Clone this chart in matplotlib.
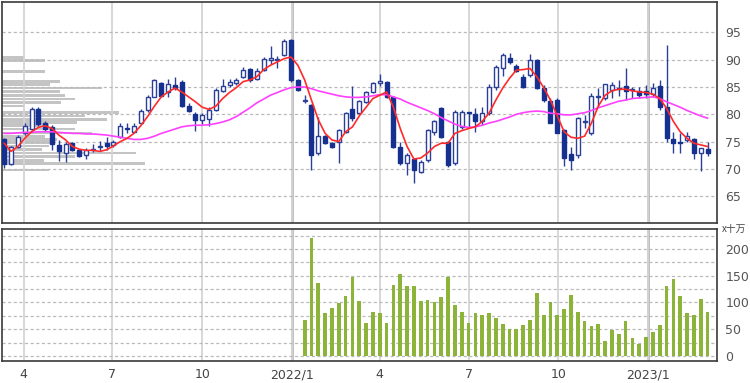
import numpy as np
import pandas as pd
import matplotlib
matplotlib.use("Agg")
import matplotlib.pyplot as plt
import matplotlib.dates as mdates
from matplotlib.ticker import MultipleLocator, FuncFormatter

plt.rcParams['font.family'] = ['DejaVu Sans', 'Noto Sans CJK JP']

# weekly candles, Mar 2021 - Feb 2023
weeks = pd.date_range("2021-03-12", periods=104, freq="7D")

opens = [75.4, 70.9, 74.1, 76.6, 77.4, 81.0, 78.4, 77.6, 74.3, 73.0,
         74.7, 73.4, 72.6, 73.4, 74.0, 74.8, 74.4, 75.8, 77.5, 76.8,
         78.5, 80.8, 83.2, 85.8, 84.0, 85.3, 86.0, 81.5, 80.0, 79.0,
         79.1, 80.8, 84.3, 85.4, 85.7, 86.8, 88.3, 86.4, 88.1, 90.0,
         89.9, 90.9, 93.6, 86.2, 82.4, 81.7, 72.9, 76.0, 74.8, 75.0,
         76.8, 80.9, 80.2, 82.3, 84.1, 85.8, 86.0, 83.2, 74.1, 71.0,
         71.8, 69.5, 71.6, 76.8, 81.2, 75.0, 71.0, 77.7, 80.4, 80.1,
         78.8, 80.2, 85.0, 88.4, 90.4, 88.8, 86.9, 87.2, 90.0, 84.8,
         82.5, 82.7, 77.1, 72.7, 72.6, 78.6, 76.5, 83.2, 82.9, 84.5,
         84.9, 85.2, 84.4, 84.3, 84.3, 83.8, 85.2, 81.4, 75.4, 74.8,
         75.3, 75.4, 73.0, 73.6]
highs = [75.6, 74.2, 76.2, 78.4, 81.4, 81.4, 78.7, 78.0, 75.3, 75.0,
         75.0, 73.6, 73.8, 74.6, 75.1, 75.9, 75.3, 78.4, 78.4, 78.4,
         81.0, 83.5, 86.4, 86.0, 86.5, 86.8, 86.2, 82.0, 80.5, 80.2,
         81.4, 84.8, 86.4, 86.4, 86.6, 88.7, 88.5, 88.4, 90.5, 92.5,
         90.6, 93.8, 93.8, 86.4, 83.5, 81.8, 79.6, 76.2, 75.0, 77.4,
         80.4, 85.2, 82.7, 84.3, 86.0, 87.4, 86.1, 83.4, 75.0, 72.9,
         72.0, 71.6, 77.3, 79.0, 81.4, 75.2, 80.8, 80.8, 80.5, 81.1,
         81.4, 85.5, 89.0, 91.2, 91.2, 89.3, 87.4, 91.0, 90.2, 85.4,
         82.9, 82.9, 77.4, 74.0, 79.6, 79.9, 83.9, 84.8, 85.6, 86.0,
         86.2, 88.5, 85.0, 85.0, 85.4, 85.7, 86.2, 92.7, 76.8, 76.6,
         76.8, 75.6, 73.8, 75.0]
lows = [70.1, 70.7, 73.9, 76.2, 77.0, 77.8, 77.0, 73.5, 71.4, 71.2,
        73.2, 72.1, 71.8, 73.1, 73.2, 73.5, 74.1, 75.6, 76.5, 76.7,
        78.5, 80.5, 83.1, 83.3, 83.1, 84.5, 81.4, 80.5, 77.0, 78.3,
        77.8, 80.7, 84.1, 85.0, 85.4, 86.7, 86.0, 86.2, 87.9, 89.3,
        88.4, 90.7, 86.0, 84.3, 82.0, 69.8, 72.6, 74.6, 73.9, 71.0,
        76.6, 78.7, 80.0, 82.0, 83.9, 85.2, 83.0, 73.9, 70.8, 68.8,
        67.4, 69.3, 71.2, 76.3, 75.7, 70.3, 70.8, 77.4, 77.7, 76.7,
        78.1, 79.8, 84.5, 87.0, 89.3, 87.7, 84.8, 86.9, 84.6, 82.3,
        78.4, 76.5, 70.6, 69.8, 72.0, 77.5, 76.2, 81.5, 82.6, 82.9,
        83.4, 82.6, 82.9, 82.9, 82.9, 83.2, 80.8, 75.0, 73.0, 73.0,
        75.0, 71.8, 69.7, 72.4]
closes = [70.9, 74.1, 75.9, 77.9, 81.0, 78.2, 77.4, 74.6, 73.2, 74.6,
          73.4, 72.4, 73.4, 73.6, 74.2, 74.2, 75.0, 77.9, 77.3, 77.9,
          80.7, 83.2, 86.3, 83.4, 85.5, 84.8, 81.5, 80.7, 79.0, 79.9,
          80.8, 84.5, 85.2, 86.0, 86.3, 88.2, 86.2, 88.0, 90.2, 90.3,
          90.2, 93.5, 86.3, 84.5, 82.7, 72.6, 76.0, 74.8, 74.1, 77.1,
          80.2, 79.3, 82.5, 84.0, 85.7, 86.1, 83.2, 74.1, 71.0, 72.6,
          69.8, 71.3, 77.1, 78.7, 75.9, 70.7, 80.5, 80.5, 80.2, 78.7,
          80.2, 85.0, 88.6, 90.9, 89.6, 88.0, 85.0, 89.9, 84.8, 82.6,
          78.5, 76.6, 72.0, 71.6, 79.3, 78.8, 83.4, 83.4, 85.5, 85.4,
          84.7, 84.3, 84.6, 83.5, 83.8, 84.8, 81.4, 75.6, 74.7, 74.7,
          76.0, 73.0, 73.8, 72.9]

# moving averages as drawn (short = red, long = magenta)
ma_short = [74.7, 73.2, 74.1, 75.6, 76.8, 77.6, 77.9, 77.4, 76.2, 75.3,
            74.1, 73.6, 73.4, 73.4, 73.2, 73.5, 74.2, 75.0, 75.6, 76.5,
            77.9, 79.6, 81.5, 83.2, 84.1, 84.8, 84.1, 83.2, 82.3, 81.3,
            80.9, 81.5, 82.9, 84.0, 84.9, 86.0, 86.3, 86.9, 88.2, 89.0,
            89.6, 90.2, 90.5, 89.0, 86.3, 82.6, 79.0, 76.5, 75.3, 75.0,
            76.8, 77.7, 79.7, 81.3, 82.9, 83.5, 84.1, 81.3, 77.4, 74.1,
            71.8, 72.0, 72.9, 74.1, 74.7, 74.7, 76.5, 77.0, 77.4, 77.7,
            78.7, 80.2, 82.6, 84.8, 86.6, 88.1, 88.2, 88.4, 86.9, 84.9,
            82.6, 79.7, 76.8, 75.8, 75.6, 76.0, 78.4, 81.5, 83.5, 84.3,
            84.6, 84.6, 84.3, 84.1, 84.0, 83.7, 82.9, 81.1, 78.7, 76.8,
            75.6, 74.7, 74.4, 74.1]
ma_long = [76.5, 76.5, 76.6, 76.7, 76.7, 76.8, 76.8, 76.8, 76.7, 76.6,
           76.5, 76.5, 76.4, 76.4, 76.3, 76.2, 76.0, 75.8, 75.6, 75.4,
           75.4, 75.6, 76.0, 76.5, 76.9, 77.3, 77.7, 77.9, 78.0, 78.0,
           78.1, 78.3, 78.6, 79.0, 79.6, 80.4, 81.2, 82.1, 82.8, 83.5,
           84.0, 84.5, 84.9, 85.0, 85.0, 84.7, 84.3, 84.0, 83.7, 83.4,
           83.2, 83.1, 83.1, 83.2, 83.4, 83.6, 83.6, 83.2, 82.8, 82.2,
           81.7, 81.2, 80.7, 80.1, 79.4, 78.8, 78.2, 77.8, 77.6, 77.7,
           78.0, 78.4, 78.7, 79.1, 79.5, 80.0, 80.3, 80.5, 80.6, 80.5,
           80.2, 80.1, 79.9, 79.9, 80.1, 80.3, 80.7, 81.2, 81.6, 82.0,
           82.4, 82.6, 82.9, 83.0, 83.1, 83.2, 82.9, 82.3, 81.8, 81.3,
           80.7, 80.2, 79.7, 79.3]

# volume (x 100,000 shares), available for the last 60 weeks only
volume = [68, 220, 137, 80, 90, 99, 112, 147, 102, 62,
          82, 80, 62, 132, 154, 130, 130, 102, 105, 100,
          110, 147, 95, 83, 61, 80, 76, 80, 71, 59,
          51, 50, 57, 67, 117, 76, 100, 77, 87, 114,
          82, 65, 56, 59, 27, 49, 41, 66, 34, 23,
          36, 44, 57, 131, 144, 112, 80, 76, 107, 82]

# price-by-volume profile (relative)
profile_price = [90.4, 89.8, 87.9, 86.0, 85.4, 84.8, 84.2, 83.5, 82.8, 82.2,
                 81.5, 80.3, 79.7, 79.1, 78.5, 77.9, 77.3, 76.6, 76.0, 75.4,
                 74.8, 74.2, 73.6, 72.9, 72.3, 71.6, 71.0, 69.8]
profile_vol = [22, 43, 43, 58, 48, 100, 58, 63, 73, 59,
               22, 118, 83, 106, 75, 47, 73, 90, 43, 55,
               50, 47, 40, 135, 73, 42, 144, 47]

x = mdates.date2num(weeks)
o = np.array(opens); h = np.array(highs); l = np.array(lows); c = np.array(closes)
up = c >= o

navy = '#15308f'
edge = '#2a3f98'
grid_c = '#bababa'
vgrid_c = '#d4d4d4'
frame_c = '#3a3a3a'

fig = plt.figure(figsize=(7.5, 3.83), dpi=100, facecolor='white')
ax = fig.add_axes([0.003, 0.418, 0.953, 0.577])
ax_v = fig.add_axes([0.003, 0.057, 0.953, 0.345], sharex=ax)

# volume profile behind the candles
ax_p = ax.twiny()
ax_p.barh(profile_price, profile_vol, height=0.5, color='#c4c4c4', zorder=1)
ax_p.set_xlim(0, max(profile_vol) / 0.2)
ax_p.set_xticks([])
ax_p.patch.set_visible(True)
ax_p.patch.set_facecolor('white')
for s in ax_p.spines.values():
    s.set_visible(False)
ax.set_zorder(ax_p.get_zorder() + 1)
ax.patch.set_visible(False)

# candles
body_w = 4.1
ax.vlines(x, l, h, color=edge, linewidth=1.0, zorder=3)
bottoms = np.minimum(o, c)
heights = np.maximum(np.abs(c - o), 0.15)
ax.bar(x[up], heights[up], bottom=bottoms[up], width=body_w,
       facecolor='white', edgecolor=edge, linewidth=1.0, zorder=4)
ax.bar(x[~up], heights[~up], bottom=bottoms[~up], width=body_w,
       facecolor=navy, edgecolor=navy, linewidth=1.0, zorder=4)

ax.plot(x, ma_long, color='#ff40ff', linewidth=1.2, zorder=5)
ax.plot(x, ma_short, color='#ff2a2a', linewidth=1.2, zorder=6)

xmin, xmax = x[0] - 2.0, x[0] + 730.7
ax.set_ylim(60.1, 100.6)
ax.set_xlim(xmin, xmax)
ax.set_yticks([65, 70, 75, 80, 85, 90, 95])

# volume bars
ax_v.bar(x[-len(volume):], volume, width=3.8, color='#8db43a', zorder=3)
ax_v.set_ylim(-9.9, 237.6)
ax_v.set_yticks([0, 50, 100, 150, 200])
ax_v.yaxis.set_minor_locator(MultipleLocator(25))

# month ticks
loc = mdates.MonthLocator(bymonth=[1, 4, 7, 10])
ax_v.xaxis.set_major_locator(loc)
def fmt(v, pos):
    d = mdates.num2date(v)
    return f"{d.year}/1" if d.month == 1 else str(d.month)
ax_v.xaxis.set_major_formatter(FuncFormatter(fmt))

year_lines = [t for t in loc.tick_values(mdates.num2date(xmin), mdates.num2date(xmax))
              if mdates.num2date(t).month == 1 and xmin < t < xmax]

for a in (ax, ax_v):
    a.yaxis.tick_right()
    a.tick_params(axis='y', which='both', length=0, pad=6, labelsize=9, labelcolor='#555555')
    a.tick_params(axis='x', length=0, labelsize=9, labelcolor='#444444', pad=5)
    a.grid(axis='y', which='both', color=grid_c, linestyle=(0, (2.5, 2)), linewidth=0.9)
    a.grid(axis='x', which='major', color=vgrid_c, linewidth=1.3)
    a.set_axisbelow(True)
    for s in a.spines.values():
        s.set_color(frame_c)
        s.set_linewidth(1.2)
    for t in year_lines:
        a.axvline(t, color='#adadad', linewidth=1.8, zorder=0.5)
ax.tick_params(axis='x', labelbottom=False)

fig.text(0.963, 0.402, 'x十万', fontsize=7, color='#444444', va='center',
         family=['Noto Sans CJK JP', 'DejaVu Sans'])

fig.savefig('out.png', dpi=100, facecolor='white')
